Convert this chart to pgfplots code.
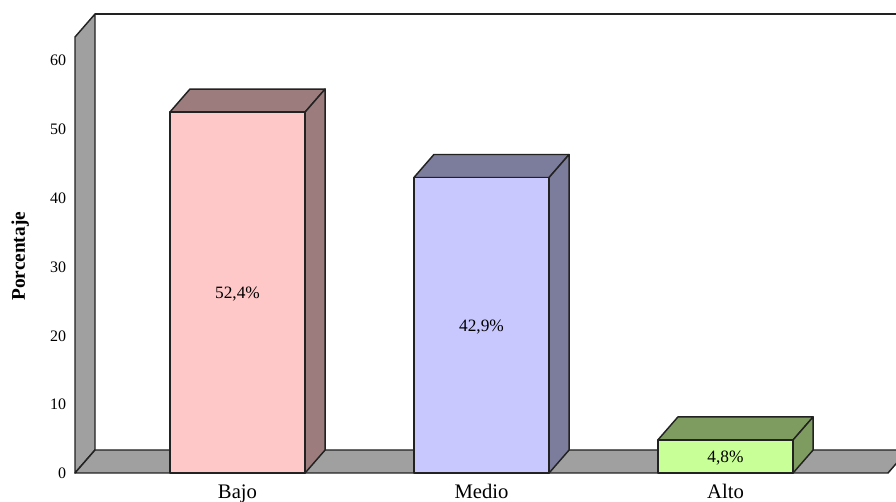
\documentclass[border=0pt]{standalone}
\usepackage{fontspec}
\setmainfont{Liberation Serif}
\usepackage{pgfplots}
\pgfplotsset{compat=1.18}
\definecolor{wall}{HTML}{A0A0A0}
\definecolor{edge}{HTML}{222222}
\definecolor{pinkF}{HTML}{FFC8C8}
\definecolor{pinkS}{HTML}{9C7C7C}
\definecolor{blueF}{HTML}{C8C8FF}
\definecolor{blueS}{HTML}{7C7C9C}
\definecolor{greenF}{HTML}{C8FF96}
\definecolor{greenS}{HTML}{7F9C60}
\begin{document}
\begin{tikzpicture}
\useasboundingbox (0,0) rectangle (672pt,376.5pt);
\begin{axis}[
  at={(56.25pt,21.75pt)}, anchor=south west,
  scale only axis, width=609.75pt, height=327pt,
  xmin=-0.666, xmax=2.666, ymin=0, ymax=63.3,
  clip=false,
  axis line style={draw=none},
  major tick length=0pt,
  xtick={0,1,2}, xticklabels={Bajo,Medio,Alto},
  ytick={0,10,20,30,40,50,60},
  xticklabel style={font=\fontsize{15.5}{17}\selectfont, yshift=-5pt},
  yticklabel style={font=\fontsize{12}{14}\selectfont, xshift=-3.2pt, yshift=-0.4pt},
  /pgf/number format/assume math mode=true,
  ylabel={\textbf{Porcentaje}},
  ylabel style={at={(axis description cs:-0.0675,0.5)}, anchor=center, xshift=-1pt, font=\fontsize{14.5}{17}\selectfont},
  no markers,
  every axis plot/.append style={draw=edge, line width=1.1pt, line join=round},
]
% side wall and floor of the box
\addplot[fill=wall] coordinates {(-.666,0) (-.584,3.34) (-.584,66.64) (-.666,63.3)} --cycle;
\addplot[fill=wall] coordinates {(-.666,0) (2.666,0) (2.748,3.34) (-.584,3.34)} --cycle;
\addplot[draw=edge] coordinates {(-.584,66.64) (2.748,66.64) (2.748,3.34)};
% Bajo
\addplot[fill=pinkS] coordinates {(-.277,52.4) (.277,52.4) (.359,55.74) (-.195,55.74)} --cycle;
\addplot[fill=pinkS] coordinates {(.277,0) (.359,3.34) (.359,55.74) (.277,52.4)} --cycle;
\addplot[fill=pinkF] coordinates {(-.277,0) (.277,0) (.277,52.4) (-.277,52.4)} --cycle;
% Medio
\addplot[fill=blueS] coordinates {(.723,42.9) (1.277,42.9) (1.359,46.24) (.805,46.24)} --cycle;
\addplot[fill=blueS] coordinates {(1.277,0) (1.359,3.34) (1.359,46.24) (1.277,42.9)} --cycle;
\addplot[fill=blueF] coordinates {(.723,0) (1.277,0) (1.277,42.9) (.723,42.9)} --cycle;
% Alto
\addplot[fill=greenS] coordinates {(1.723,4.8) (2.277,4.8) (2.359,8.14) (1.805,8.14)} --cycle;
\addplot[fill=greenS] coordinates {(2.277,0) (2.359,3.34) (2.359,8.14) (2.277,4.8)} --cycle;
\addplot[fill=greenF] coordinates {(1.723,0) (2.277,0) (2.277,4.8) (1.723,4.8)} --cycle;
% value labels at mid-height of each bar
\addplot[draw=none, nodes near coords, point meta=explicit symbolic,
  nodes near coords style={anchor=center, text=black, yshift=-1.5pt, font=\fontsize{13}{15}\selectfont}]
  coordinates {(0,26.2) [52,4\%] (1,21.45) [42,9\%] (2,2.4) [4,8\%]};
\end{axis}
\end{tikzpicture}
\end{document}
